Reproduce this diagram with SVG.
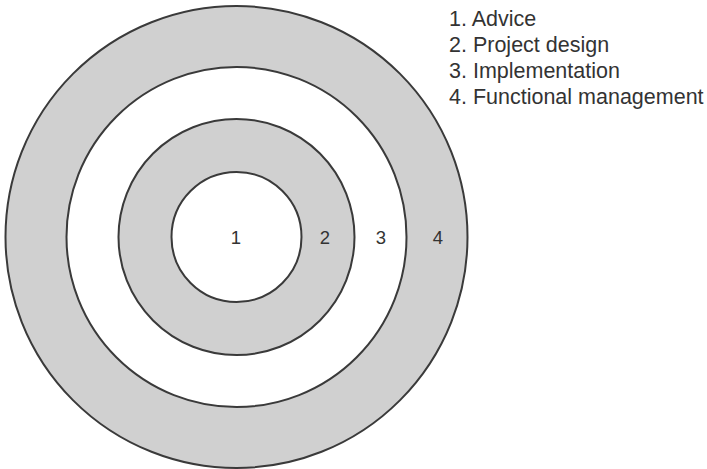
<svg xmlns="http://www.w3.org/2000/svg" width="707" height="469" viewBox="0 0 707 469">
<style>
.ring{stroke:#3a3a3a;stroke-width:2}
.g{fill:#d0d0d0}
.w{fill:#ffffff}
.num{font-family:"Liberation Sans",Arial,sans-serif;font-size:18.5px;fill:#333;text-anchor:middle}
.leg{font-family:"Liberation Sans",Arial,sans-serif;font-size:21.5px;fill:#333}
</style>
<rect width="707" height="469" fill="#ffffff"/>
<g id="ring4"><circle class="ring g" cx="236.5" cy="237" r="231"/><text class="num" x="438" y="244">4</text></g>
<g id="ring3"><circle class="ring w" cx="236.5" cy="237" r="170"/><text class="num" x="381" y="244">3</text></g>
<g id="ring2"><circle class="ring g" cx="236.5" cy="237" r="118"/><text class="num" x="325" y="244">2</text></g>
<g id="ring1"><circle class="ring w" cx="236.5" cy="237" r="65"/><text class="num" x="236" y="244">1</text></g>
<g id="legend">
<text class="leg" x="449" y="26">1. Advice</text>
<text class="leg" x="449" y="52">2. Project design</text>
<text class="leg" x="449" y="78">3. Implementation</text>
<text class="leg" x="449" y="104">4. Functional management</text>
</g>
<g id="connectors"/>
</svg>
